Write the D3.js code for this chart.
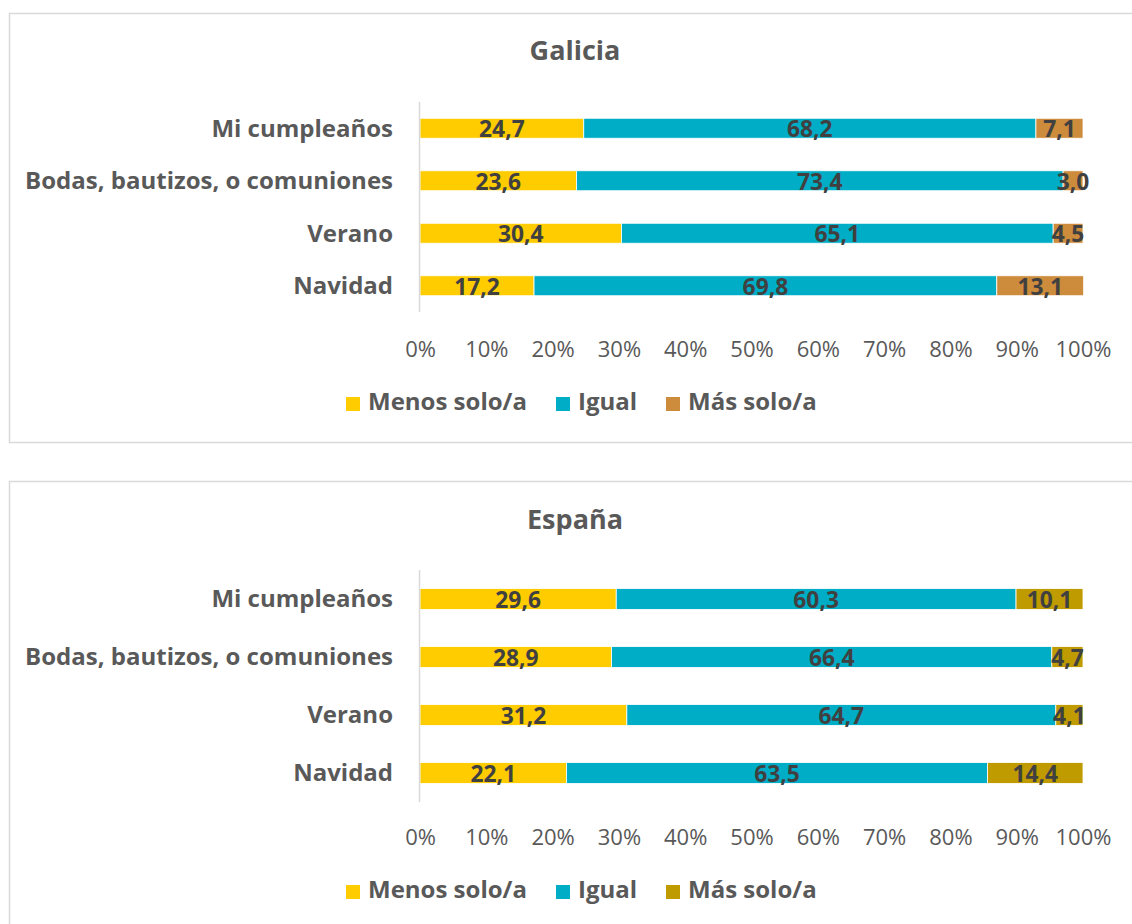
<!DOCTYPE html>
<html><head><meta charset="utf-8">
<script src="https://cdn.jsdelivr.net/npm/d3@7"></script>
<style>body{margin:0;background:#fff;} svg{display:block;font-family:"Open Sans",sans-serif;}</style>
</head><body>
<svg id="c" width="1132" height="924"></svg>
<script>
const categories = ["Mi cumpleaños", "Bodas, bautizos, o comuniones", "Verano", "Navidad"];
const seriesNames = ["Menos solo/a", "Igual", "Más solo/a"];
const galiciaMenos = [24.7, 23.6, 30.4, 17.2];
const galiciaIgual = [68.2, 73.4, 65.1, 69.8];
const galiciaMas = [7.1, 3.0, 4.5, 13.1];
const espanaMenos = [29.6, 28.9, 31.2, 22.1];
const espanaIgual = [60.3, 66.4, 64.7, 63.5];
const espanaMas = [10.1, 4.7, 4.1, 14.4];
const tickValues = [0,10,20,30,40,50,60,70,80,90,100];

const panels = [
  {title:"Galicia", top:13, h:429, series:[galiciaMenos,galiciaIgual,galiciaMas], colors:["#FFCC00","#00ADC6","#CD8B3C"],
   yTop:102, yBot:312, pad:0.62, tickY:349, legY:404, titleY:53},
  {title:"España", top:481, h:460, series:[espanaMenos,espanaIgual,espanaMas], colors:["#FFCC00","#00ADC6","#BF9B00"],
   yTop:570, yBot:802, pad:0.64, tickY:837, legY:892, titleY:522}
];
const svg = d3.select("#c");
const x = d3.scaleLinear().domain([0,100]).range([420,1083]);

panels.forEach(p=>{
  const g = svg.append("g");
  g.append("rect").attr("x",9.5).attr("y",p.top+0.5).attr("width",1140).attr("height",p.h)
    .attr("fill","#fff").attr("stroke","#d9d9d9").attr("stroke-width",1.5);
  g.append("text").attr("x",575).attr("y",p.titleY).attr("text-anchor","middle").attr("dominant-baseline","middle")
    .attr("font-size",27).attr("font-weight",700).attr("fill","#595959").text(p.title);
  const y = d3.scaleBand().domain(categories).range([p.yTop,p.yBot]).paddingInner(p.pad).paddingOuter(p.pad/2);
  const rows = categories.map((c,i)=>({cat:c, vals:p.series.map(s=>s[i])}));
  const stack = d3.stack().keys([0,1,2]).value((d,k)=>d.vals[k]);
  const stacked = stack(rows);
  stacked.forEach((layer,k)=>{
    g.append("g").selectAll("rect").data(layer).enter().append("rect")
      .attr("x",d=>x(d[0])).attr("width",d=>x(d[1])-x(d[0]))
      .attr("y",d=>y(d.data.cat)).attr("height",y.bandwidth())
      .attr("fill",p.colors[k]).attr("stroke","#ffffff").attr("stroke-width",0.8);
  });
  stacked.forEach((layer,k)=>{
    g.append("g").selectAll("text").data(layer).enter().append("text")
      .attr("x",d=>(x(d[0])+x(d[1]))/2).attr("y",d=>y(d.data.cat)+y.bandwidth()/2+2.5)
      .attr("text-anchor","middle").attr("dominant-baseline","middle")
      .attr("font-size",24).attr("font-weight",700).attr("fill","#404040")
      .attr("transform",d=>{const cx=(x(d[0])+x(d[1]))/2; return `translate(${cx},0) scale(0.95,1) translate(${-cx},0)`;})
      .text(d=>d3.format(".1f")(d.data.vals[k]).replace(".",","));
  });
  g.append("line").attr("x1",419.5).attr("x2",419.5).attr("y1",p.yTop).attr("y2",p.yBot).attr("stroke","#d9d9d9").attr("stroke-width",1.5);
  g.selectAll("text.cat").data(categories).enter().append("text")
    .attr("x",393).attr("y",d=>y(d)+y.bandwidth()/2+2).attr("text-anchor","end").attr("dominant-baseline","middle")
    .attr("font-size",24).attr("font-weight",700).attr("fill","#595959").text(d=>d);
  const ax = g.append("g").attr("transform",`translate(0,${p.tickY})`).call(d3.axisBottom(x).tickValues(tickValues).tickFormat(d=>d+"%").tickSize(0).tickPadding(0));
  ax.select(".domain").remove();
  ax.selectAll("text").attr("font-size",22).attr("fill","#595959").attr("font-family","Open Sans").attr("dy","0.35em").attr("y",0);
  const legX=[346,556,666];
  seriesNames.forEach((n,k)=>{
    g.append("rect").attr("x",legX[k]).attr("y",p.legY-7).attr("width",14).attr("height",14).attr("fill",p.colors[k]);
    g.append("text").attr("x",legX[k]+22).attr("y",p.legY).attr("dominant-baseline","middle")
      .attr("font-size",24).attr("font-weight",700).attr("fill","#595959").text(n);
  });
});
</script>
</body></html>
